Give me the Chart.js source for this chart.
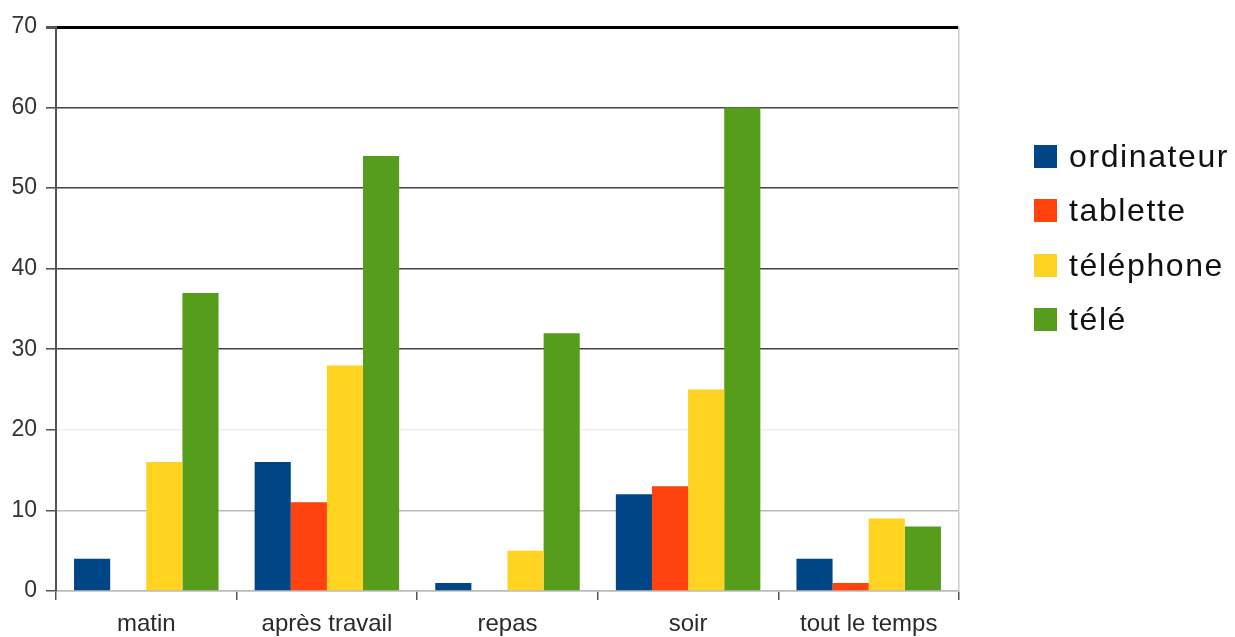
<!DOCTYPE html>
<html>
<head>
<meta charset="utf-8">
<script src="https://cdn.jsdelivr.net/npm/chart.js@4/dist/chart.umd.min.js"></script>
<style>
  html, body { margin: 0; padding: 0; background: #fff; }
  #wrap { position: relative; width: 1235px; height: 637px; }
  #legend { position: absolute; left: 1034px; top: 129px; font-family: "Liberation Sans", Arial, sans-serif; font-size: 32px; letter-spacing: 1.6px; color: #111; }
  .item { display: flex; align-items: center; height: 54.5px; }
  .box { width: 23px; height: 23px; margin-right: 12px; }
</style>
</head>
<body>
<div id="wrap">
  <canvas id="c" width="1235" height="637"></canvas>
  <div id="legend"></div>
</div>
<script>
const categories = ["matin", "après travail", "repas", "soir", "tout le temps"];
const seriesNames = ["ordinateur", "tablette", "téléphone", "télé"];
const ordinateur = [4, 16, 1, 12, 4];
const tablette = [0, 11, 0, 13, 1];
const telephone = [16, 28, 5, 25, 9];
const tele = [37, 54, 32, 60, 8];
const colors = ["#004586", "#ff420e", "#ffd320", "#579d1c"];
const yTicks = [0, 10, 20, 30, 40, 50, 60, 70];

const seriesValues = [ordinateur, tablette, telephone, tele];

const datasets = seriesNames.map((n, i) => ({
  label: n,
  data: seriesValues[i],
  backgroundColor: colors[i],
  borderWidth: 0,
  barPercentage: 1.0,
  categoryPercentage: 0.8
}));

function gridColor(v) {
  if (v === 70) return "#000";
  if (v >= 30) return "#444";
  if (v === 20) return "#eeeeee";
  return "#bbbbbb";
}
function gridWidth(v) {
  if (v === 70) return 3;
  if (v >= 30) return 1.6;
  return 1.5;
}

new Chart(document.getElementById("c"), {
  type: "bar",
  data: { labels: categories, datasets },
  options: {
    responsive: false,
    animation: false,
    devicePixelRatio: 1,
    layout: { padding: { left: 0, right: 276, top: 27, bottom: 0 } },
    plugins: { legend: { display: false }, tooltip: { enabled: false } },
    scales: {
      x: {
        offset: true,
        grid: {
          drawOnChartArea: false,
          drawTicks: true,
          tickLength: 9,
          color: (ctx) => (ctx.index === categories.length ? "#cccccc" : "#555"),
          lineWidth: 1.5
        },
        border: { display: true, color: "#bbbbbb", width: 1.5 },
        ticks: {
          color: "#2a2a2a",
          font: { family: "'Liberation Sans', Arial, sans-serif", size: 24 },
          padding: 10,
          maxRotation: 0
        },
        afterFit: (s) => { s.height = 46; }
      },
      y: {
        min: 0,
        max: 70,
        afterBuildTicks: (s) => { s.ticks = yTicks.map(v => ({ value: v })); },
        grid: {
          color: (ctx) => gridColor(ctx.tick.value),
          lineWidth: (ctx) => gridWidth(ctx.tick.value),
          tickLength: 10,
          tickColor: "#555"
        },
        border: { display: true, color: "#555", width: 2 },
        ticks: {
          color: "#333",
          font: { family: "'Liberation Sans', Arial, sans-serif", size: 23 },
          padding: 9
        },
        afterFit: (s) => { s.width = 56; }
      },
      y2: {
        position: "right",
        min: 0,
        max: 70,
        grid: { display: false },
        ticks: { display: false },
        border: { display: true, color: "#cccccc", width: 1.5 },
        afterFit: (s) => { s.width = 0; }
      }
    }
  }
});

const legend = document.getElementById("legend");
seriesNames.forEach((n, i) => {
  const item = document.createElement("div");
  item.className = "item";
  const box = document.createElement("div");
  box.className = "box";
  box.style.background = colors[i];
  const txt = document.createElement("span");
  txt.textContent = n;
  item.appendChild(box);
  item.appendChild(txt);
  legend.appendChild(item);
});
</script>
</body>
</html>
